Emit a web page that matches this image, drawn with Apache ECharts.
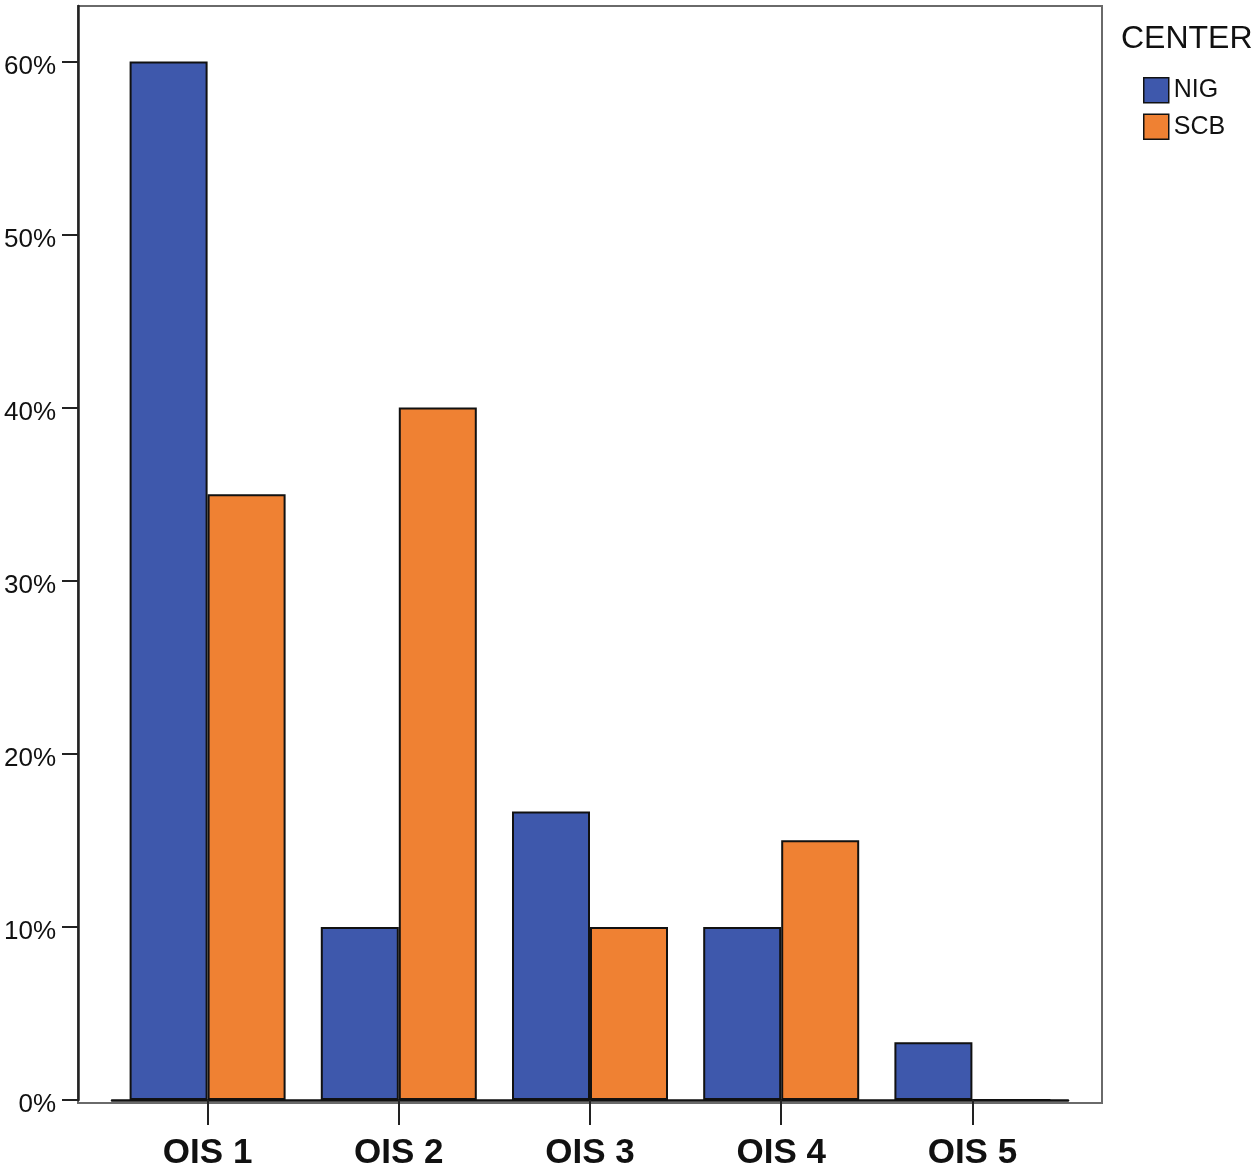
<!DOCTYPE html>
<html>
<head>
<meta charset="utf-8">
<script src="https://cdn.jsdelivr.net/npm/echarts@6/dist/echarts.min.js"></script>
<style>html,body{margin:0;padding:0;background:#fff;}#c{width:1258px;height:1171px;}</style>
</head>
<body>
<div id="c"></div>
<script>
const categories = ['OIS 1', 'OIS 2', 'OIS 3', 'OIS 4', 'OIS 5'];
const nigValues = [60, 10, 16.67, 10, 3.33];
const scbValues = [35, 40, 10, 15, 0];
const seriesNames = ['NIG', 'SCB'];
const legendTitle = 'CENTER';
const yMax = 63.2;

const font = '"Liberation Sans", Arial, sans-serif';
const chart = echarts.init(document.getElementById('c'));
chart.setOption({
  animation: false,
  backgroundColor: '#fff',
  title: {
    text: legendTitle, left: 1121, top: 23, padding: 0,
    textStyle: { fontFamily: font, fontSize: 32, fontWeight: 'normal', color: '#111' }
  },
  legend: {
    orient: 'vertical', left: 1143, top: 77, padding: 0,
    itemWidth: 25, itemHeight: 25, itemGap: 10, itemStyle: { borderColor: '#111', borderWidth: 1.5 },
    textStyle: { fontFamily: font, fontSize: 25, color: '#111', padding: [3, 0, 0, 0] },
    data: seriesNames, icon: 'rect'
  },
  grid: [
    { left: 112, right: 190, top: 6, bottom: 68, containLabel: false },
    { left: 78, right: 156, top: 6, bottom: 68, show: true, borderColor: '#6a6a6a', borderWidth: 2, backgroundColor: 'transparent', z: 0 }
  ],
  xAxis: [
    {
      type: 'category', data: categories, gridIndex: 0,
      axisLine: { show: true, lineStyle: { color: '#111', width: 2.5 } },
      axisTick: { show: true, alignWithLabel: true, length: 25, lineStyle: { color: '#222', width: 2 } },
      axisLabel: { fontFamily: font, fontSize: 35, fontWeight: 'bold', color: '#111', margin: 36 },
      z: 5
    },
    { type: 'value', gridIndex: 1, show: false }
  ],
  yAxis: [
    {
      type: 'value', gridIndex: 0, min: 0, max: yMax, interval: 10, offset: 34,
      axisLine: { show: true, lineStyle: { color: '#222', width: 2.5 } },
      axisTick: { show: true, length: 16, lineStyle: { color: '#222', width: 2 } },
      axisLabel: { fontFamily: font, fontSize: 26, color: '#111', margin: 22, showMaxLabel: false,
        verticalAlign: 'top', lineHeight: 26, padding: [-8, 0, 0, 0],
        formatter: v => (v % 10 === 0 ? v + '%' : '') },
      splitLine: { show: false }
    },
    { type: 'value', gridIndex: 1, show: false }
  ],
  series: [
    {
      name: seriesNames[0], type: 'bar', data: nigValues, barWidth: 78, barGap: '0%',
      itemStyle: { color: '#3E58AC', borderColor: '#111', borderWidth: 2 }
    },
    {
      name: seriesNames[1], type: 'bar', data: scbValues, barWidth: 78, barGap: '0%',
      itemStyle: { color: '#EF8133', borderColor: '#111', borderWidth: 2 }
    }
  ]
});
</script>
</body>
</html>
